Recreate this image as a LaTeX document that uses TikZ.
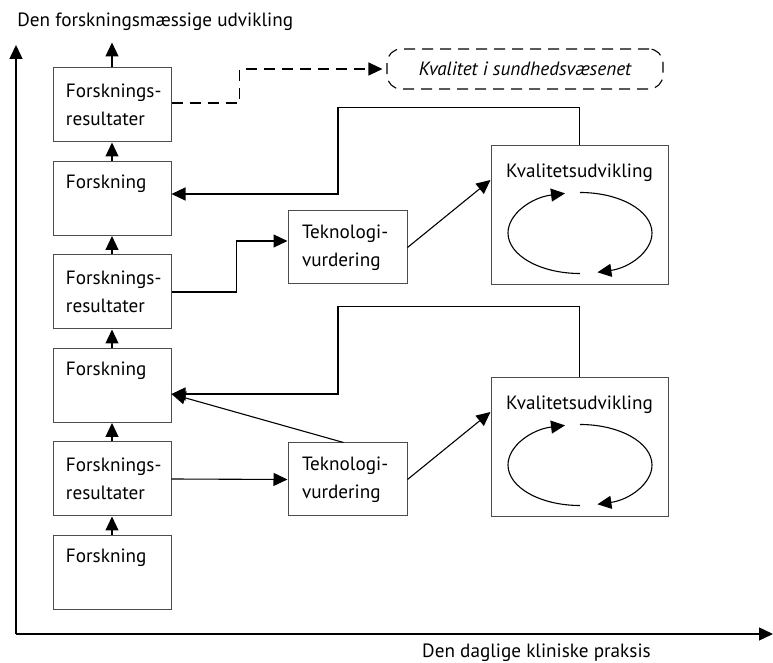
\documentclass[tikz,border=0pt]{standalone}
\usepackage{fontspec}
\setmainfont{PT Sans}
\usetikzlibrary{arrows.meta}
\begin{document}
\begin{tikzpicture}[x=.5pt, y=-.5pt, inner sep=0pt, font=\fontsize{9.6}{13.8}\selectfont,
    boks/.style={draw=black!70, line width=.5pt, minimum width=59pt, minimum height=37pt,
      text width=46pt, inner xsep=6.5pt, align=left},
    forsk/.style={boks, text height=13.75pt, text depth=23.25pt},
    tek/.style={boks, minimum width=59.5pt, minimum height=36.5pt, text width=45.5pt, inner xsep=7pt},
    kval/.style={draw=black!70, line width=.5pt, minimum width=88.5pt, minimum height=69.5pt,
      text height=15.75pt, text depth=53.75pt},
    lin/.style={line width=.55pt},
    pil/.style={lin, -{Triangle[length=7pt, width=6.5pt]}},
    stiplet/.style={pil, dash pattern=on 5.5pt off 3.5pt}]
  \useasboundingbox (0,0) rectangle (773,663);
  % akser
  \coordinate (O) at (16,634);
  \coordinate (Otop) at (16,45);
  \coordinate (Oright) at (773,634);
  \draw[pil, line width=.7pt] (O) -- (Otop);
  \draw[pil, line width=.7pt] (O) -- (Oright);
  \node[anchor=west] (yakse) at (17,22) {Den forskningsmæssige udvikling};
  \node (xakse) at (536.5,653) {Den daglige kliniske praksis};
  % venstre kolonne
  \node[boks]  (R3) at (112,105)   {\mbox{Forsknings-}\\resultater};
  \node[forsk] (F3) at (112,198.5) {Forskning};
  \node[boks]  (R2) at (112,292)   {\mbox{Forsknings-}\\resultater};
  \node[forsk] (F2) at (112,385.5) {Forskning};
  \node[boks]  (R1) at (112,479)   {\mbox{Forsknings-}\\resultater};
  \node[forsk] (F1) at (112,572.5) {Forskning};
  \draw[pil] (F1) -- (R1);
  \draw[pil] (R1) -- (F2);
  \draw[pil] (F2) -- (R2);
  \draw[pil] (R2) -- (F3);
  \draw[pil] (F3) -- (R3);
  \draw[pil] (R3.north) -- ++(0,-25);
  % teknologivurdering og kvalitetsudvikling
  \node[tek]  (T2) at (347.5,247.5) {\mbox{Teknologi-}\\vurdering};
  \node[tek]  (T1) at (347.5,479.5) {\mbox{Teknologi-}\\vurdering};
  \node[kval] (K2) at (579.5,215.5) {Kvalitetsudvikling};
  \node[kval] (K1) at (579.5,447.5) {Kvalitetsudvikling};
  \node[draw, lin, dash pattern=on 5.5pt off 3.5pt, rounded corners=7pt,
    minimum width=138pt, minimum height=20pt, font=\fontsize{9.6}{13.8}\selectfont\itshape]
    (Q) at (525,69) {Kvalitet i sundhedsvæsenet};
  % kredsløb
  \draw[pil] (K2.south) ++(0.5,-12) arc[start angle=90, end angle=258, x radius=72, y radius=40.5];
  \draw[pil] (K2.south) ++(0.5,-93) arc[start angle=270, end angle=436, x radius=72, y radius=40.5];
  \draw[pil] (K1.south) ++(0.5,-12) arc[start angle=90, end angle=258, x radius=72, y radius=40.5];
  \draw[pil] (K1.south) ++(0.5,-93) arc[start angle=270, end angle=436, x radius=72, y radius=40.5];
  % forbindelser
  \draw[stiplet, shorten >=2pt] ([yshift=1pt]R3.east) -- ++(68,0) |- (Q.west);
  \draw[pil] (K2.north) -- ++(0,-38) -| (338,194) -- ([yshift=2.25pt]F3.east);
  \draw[pil] (R2.east) -- ++(65,0) |- ([yshift=3.25pt]T2.west);
  \draw[pil] (T2.east) -- ([yshift=17.75pt]K2.west);
  \draw[pil] (K1.north) -- ++(0,-71) -| (338,394) -- ([yshift=-4.25pt]F2.east);
  \draw[pil] ([xshift=-2pt]T1.north) -- ([yshift=-4.25pt]F2.east);
  \draw[pil] (R1.east) -- (T1.west);
  \draw[pil] (T1.east) -- ([yshift=17.75pt]K1.west);
\end{tikzpicture}
\end{document}
